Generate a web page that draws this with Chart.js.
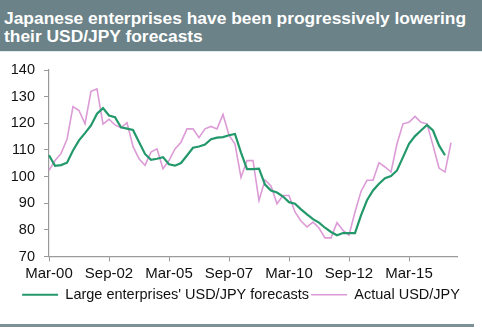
<!DOCTYPE html>
<html>
<head>
<meta charset="utf-8">
<script src="https://cdn.jsdelivr.net/npm/chart.js@4.4.1/dist/chart.umd.min.js"></script>
<style>
  html, body { margin:0; padding:0; background:#fff; }
  body { width:482px; height:328px; position:relative; overflow:hidden; font-family:"Liberation Sans", Arial, sans-serif; }
  .head {
    position:absolute; left:0; top:0; width:482px; height:51px;
    background:#6b8288; color:#fff; font-weight:bold; font-size:17.4px; line-height:18px;
    box-sizing:border-box; padding:9px 0 0 4px;
  }
  .head-edge { position:absolute; left:0; top:51px; width:482px; height:1px; background:#dde9ec; }
  .wrap { position:absolute; left:0; top:51px; width:482px; height:261px; }
  .rule { position:absolute; left:0; top:324px; width:474px; height:3px; background:#7b9196; }
</style>
</head>
<body>
<div class="head">Japanese enterprises have been progressively lowering<br>their USD/JPY forecasts</div>
<div class="head-edge"></div>
<div class="wrap"><canvas id="chart"></canvas></div>
<div class="rule"></div>
<script>
/* quarterly, Mar-00 .. Mar-17 */
const months = ['Mar','Jun','Sep','Dec'];
const quarters = [];
for (let y = 0; y <= 17; y++) {
  months.forEach(m => { if (quarters.length < 69) quarters.push(m + '-' + String(y).padStart(2,'0')); });
}
const shownLabels = ['Mar-00','Sep-02','Mar-05','Sep-07','Mar-10','Sep-12','Mar-15'];

const forecast = [108,104,104.3,105.2,109.8,113.6,116.3,119.2,123.6,125.7,
  122.9,122.3,118.5,118,117.5,113,108.5,106.3,106.7,107.3,
  104.6,104.1,105.1,107.9,110.8,111.3,112,114,114.6,114.8,
  115.5,116,109,102.8,102.8,103,97,94.8,94,92.5,
  90.4,89.8,87.7,85.8,84,82.7,80.8,79.2,78,78.8,
  78.8,78.8,85.4,91.1,94.8,97.3,99.4,100.2,102.3,107.3,
  112.3,115.2,117.3,119.4,117.3,111.7,108];

const actual = [102.3,106,108.6,114,126.3,124.8,119.8,132,132.9,119.7,
  121.5,119.4,118.3,120.2,111.3,106.7,104.2,109.2,110.4,102.9,
  106,110.4,112.9,117.9,117.9,114.6,117.9,118.8,117.9,123.3,
  115.5,112.2,99.7,106,106,91,98.7,96.5,89.8,92.9,
  92.9,86.7,83.3,81.1,82.9,80.7,77,77,82.7,79.8,
  78,86.7,94.4,98.6,98.6,105.2,103.6,101.7,112.3,119.8,
  120.4,122.6,120.4,119.8,111.7,103.2,101.7,112.7];

const FAM = '"Liberation Sans", Arial, sans-serif';
const axisCol = '#9a9a9a';

new Chart(document.getElementById('chart'), {
  type:'line',
  data:{ labels:quarters, datasets:[
    { label:"Large enterprises' USD/JPY forecasts", data:forecast, borderColor:'#23996b', backgroundColor:'#23996b',
      borderWidth:2.2, pointRadius:0, tension:0, pointStyle:'line' },
    { label:'Actual USD/JPY', data:actual, borderColor:'#dc9bd6', backgroundColor:'#dc9bd6',
      borderWidth:1.6, pointRadius:0, tension:0, pointStyle:'line' }
  ]},
  options:{
    responsive:true, maintainAspectRatio:false, animation:false,
    layout:{ padding:{ left:0, right:0, top:19, bottom:0 } },
    plugins:{
      tooltip:{ enabled:false },
      legend:{ display:true, position:'bottom',
        labels:{ color:'#111', font:{ family:FAM, size:14.5 }, usePointStyle:true, pointStyle:'line',
          pointStyleWidth:36, boxHeight:2, padding:2 }
      }
    },
    scales:{
      x:{
        offset:false,
        grid:{ display:true, drawOnChartArea:false, drawTicks:true, tickLength:5, color:axisCol },
        border:{ color:axisCol, width:1.2 },
        ticks:{ color:'#111', font:{ family:FAM, size:15 }, autoSkip:false, maxRotation:0, padding:3,
          callback:(v,i) => shownLabels.includes(quarters[i]) ? quarters[i] : null }
      },
      y:{
        min:70, max:140,
        afterFit: s => { s.width = 49; },
        grid:{ display:true, drawOnChartArea:false, drawTicks:true, tickLength:5, color:axisCol },
        border:{ color:axisCol, width:1.2 },
        ticks:{ color:'#111', font:{ family:FAM, size:14.5 }, stepSize:10, padding:9 }
      },
      /* empty right-hand spacer so the plot stops short of the edge */
      yRight:{
        position:'right', min:70, max:140,
        afterFit: s => { s.width = 25; },
        grid:{ display:false }, border:{ display:false }, ticks:{ display:false }
      }
    }
  }
});
</script>
</body>
</html>
